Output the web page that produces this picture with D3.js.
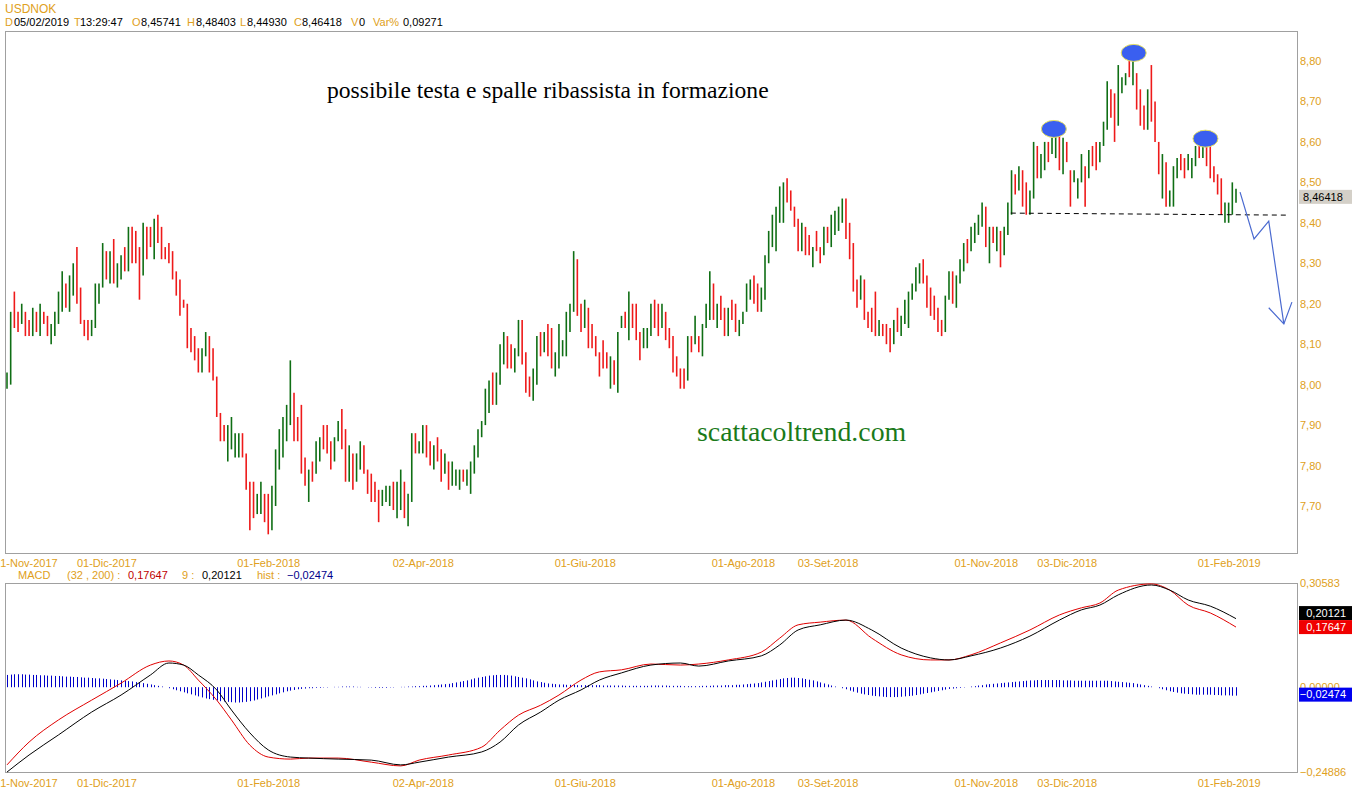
<!DOCTYPE html>
<html><head><meta charset="utf-8">
<script src="https://cdn.jsdelivr.net/npm/d3@7"></script>
<style>body{margin:0;background:#fff;} svg{display:block;font-family:"Liberation Sans",Arial,sans-serif;}</style>
</head><body><svg id="c" width="1352" height="800"></svg>
<script>
// ---------------- DATA ----------------
const symbol = "USDNOK";
const firstDay = "2017-10-25", lastDay = "2019-02-05";
const highs = [8.03,8.18,8.23,8.18,8.20,8.18,8.16,8.19,8.18,8.20,8.18,8.17,8.15,8.18,8.23,8.28,8.25,8.27,8.30,8.34,
8.24,8.16,8.16,8.16,8.25,8.25,8.35,8.33,8.33,8.36,8.30,8.32,8.34,8.39,8.39,8.38,8.34,8.40,8.39,8.39,
8.41,8.42,8.39,8.34,8.35,8.33,8.28,8.26,8.21,8.20,8.14,8.12,8.09,8.09,8.13,8.12,8.09,8.02,7.93,7.90,
7.90,7.92,7.88,7.88,7.88,7.83,7.76,7.76,7.73,7.76,7.73,7.73,7.75,7.84,7.89,7.92,7.95,8.06,7.98,7.92,
7.95,7.82,7.79,7.81,7.86,7.87,7.90,7.90,7.86,7.87,7.91,7.94,7.89,7.85,7.83,7.83,7.86,7.85,7.79,7.78,
7.76,7.74,7.74,7.75,7.75,7.76,7.76,7.79,7.76,7.73,7.88,7.88,7.86,7.90,7.90,7.86,7.85,7.87,7.84,7.83,
7.81,7.81,7.79,7.79,7.79,7.79,7.81,7.85,7.89,7.91,7.99,8.01,8.03,8.03,8.10,8.13,8.12,8.10,8.09,8.16,
8.16,8.08,8.02,8.04,8.12,8.13,8.13,8.15,8.14,8.08,8.15,8.11,8.18,8.20,8.33,8.31,8.20,8.21,8.19,8.15,
8.12,8.08,8.11,8.08,8.07,8.06,8.13,8.17,8.18,8.23,8.20,8.20,8.13,8.14,8.14,8.20,8.21,8.20,8.20,8.18,
8.14,8.12,8.07,8.04,8.04,8.12,8.12,8.17,8.12,8.15,8.20,8.28,8.25,8.20,8.22,8.19,8.19,8.21,8.20,8.16,
8.18,8.25,8.26,8.27,8.25,8.24,8.32,8.38,8.42,8.44,8.49,8.50,8.51,8.48,8.44,8.41,8.40,8.39,8.37,8.34,
8.38,8.34,8.39,8.39,8.42,8.43,8.44,8.46,8.46,8.40,8.35,8.26,8.27,8.26,8.18,8.19,8.23,8.16,8.15,8.15,
8.14,8.16,8.19,8.17,8.21,8.23,8.25,8.29,8.30,8.31,8.27,8.24,8.22,8.19,8.16,8.22,8.28,8.28,8.27,8.31,
8.35,8.36,8.39,8.40,8.42,8.45,8.44,8.39,8.39,8.39,8.38,8.39,8.45,8.53,8.52,8.54,8.53,8.50,8.48,8.60,
8.59,8.57,8.60,8.60,8.61,8.64,8.62,8.61,8.60,8.53,8.53,8.51,8.57,8.54,8.58,8.59,8.60,8.60,8.65,8.75,
8.73,8.72,8.79,8.76,8.77,8.81,8.82,8.77,8.73,8.69,8.73,8.79,8.70,8.60,8.57,8.55,8.48,8.54,8.56,8.57,
8.56,8.57,8.56,8.59,8.60,8.61,8.60,8.59,8.54,8.52,8.51,8.45,8.45,8.50,8.48403];
const lows = [7.99,8.00,8.14,8.13,8.15,8.12,8.12,8.12,8.13,8.12,8.15,8.12,8.10,8.12,8.15,8.18,8.19,8.18,8.22,8.20,
8.15,8.12,8.11,8.12,8.14,8.20,8.24,8.26,8.25,8.25,8.24,8.26,8.28,8.28,8.30,8.30,8.21,8.27,8.31,8.34,
8.31,8.35,8.31,8.31,8.30,8.26,8.22,8.17,8.19,8.09,8.08,8.06,8.03,8.03,8.07,8.03,8.01,7.92,7.86,7.86,
7.81,7.84,7.82,7.82,7.82,7.74,7.64,7.67,7.68,7.68,7.66,7.63,7.64,7.70,7.79,7.82,7.86,7.90,7.86,7.86,
7.78,7.75,7.71,7.76,7.78,7.81,7.84,7.83,7.79,7.81,7.86,7.84,7.76,7.76,7.74,7.76,7.79,7.78,7.73,7.71,
7.71,7.66,7.70,7.71,7.70,7.69,7.67,7.69,7.67,7.65,7.71,7.83,7.83,7.83,7.82,7.80,7.79,7.81,7.76,7.78,
7.74,7.75,7.75,7.74,7.76,7.75,7.73,7.78,7.82,7.87,7.90,7.93,7.95,7.95,8.00,8.05,8.04,8.04,8.03,8.07,
8.05,7.98,7.97,7.96,8.00,8.07,8.08,8.07,8.04,8.02,8.04,8.07,8.07,8.13,8.18,8.17,8.13,8.14,8.09,8.09,
8.07,8.02,8.04,8.04,7.99,8.00,7.98,8.14,8.14,8.11,8.14,8.11,8.06,8.09,8.09,8.12,8.14,8.12,8.14,8.11,
8.09,8.03,8.02,7.99,7.99,8.01,8.08,8.10,8.08,8.07,8.14,8.16,8.16,8.14,8.16,8.12,8.12,8.16,8.13,8.12,
8.15,8.18,8.21,8.20,8.18,8.18,8.21,8.30,8.34,8.33,8.40,8.40,8.45,8.43,8.39,8.33,8.33,8.32,8.32,8.29,
8.33,8.30,8.32,8.35,8.34,8.37,8.38,8.40,8.36,8.31,8.23,8.19,8.21,8.16,8.14,8.13,8.12,8.12,8.12,8.10,
8.08,8.10,8.13,8.12,8.15,8.14,8.21,8.23,8.25,8.25,8.19,8.17,8.16,8.13,8.12,8.13,8.21,8.20,8.19,8.25,
8.28,8.30,8.33,8.35,8.37,8.39,8.34,8.30,8.35,8.33,8.29,8.32,8.37,8.42,8.47,8.48,8.44,8.42,8.42,8.46,
8.51,8.51,8.53,8.55,8.57,8.56,8.53,8.52,8.55,8.44,8.50,8.46,8.50,8.44,8.51,8.54,8.53,8.55,8.59,8.63,
8.66,8.60,8.64,8.72,8.74,8.76,8.74,8.68,8.64,8.63,8.63,8.65,8.60,8.52,8.46,8.44,8.44,8.44,8.51,8.53,
8.51,8.53,8.51,8.54,8.56,8.56,8.54,8.51,8.50,8.47,8.42,8.40,8.40,8.42,8.44930];
const up = [1,1,0,0,1,0,0,1,0,1,0,0,1,1,1,1,0,1,1,0,
0,0,0,1,1,1,1,0,1,0,1,1,0,1,0,0,0,1,0,0,
1,0,0,0,0,0,0,0,0,0,0,0,0,1,1,0,0,0,0,0,
1,1,1,1,0,0,0,0,1,1,0,0,1,1,1,1,1,1,0,0,
0,0,1,0,1,1,0,0,0,1,1,0,0,1,0,1,1,0,0,0,
0,0,1,1,1,0,1,1,0,1,1,0,1,1,0,0,1,0,0,1,
0,1,1,1,0,1,1,1,1,1,1,1,0,1,1,1,0,0,1,1,
0,0,0,1,1,0,1,0,0,1,1,1,1,1,1,0,0,1,0,0,
0,0,0,0,1,0,1,1,0,1,0,0,0,1,1,1,0,0,1,0,
0,0,0,0,0,1,0,1,0,1,1,1,0,1,0,0,1,0,0,1,
1,1,1,0,0,1,1,1,1,1,1,1,0,0,0,0,1,0,0,1,
0,0,1,0,1,1,1,1,0,0,0,0,1,0,0,0,0,1,0,0,
0,1,0,1,1,1,1,1,1,0,0,0,0,0,0,1,1,0,1,1,
1,0,1,1,1,1,0,1,0,1,0,1,1,1,0,1,0,0,1,1,
0,1,1,0,1,1,0,1,0,0,1,1,1,0,1,0,0,1,1,1,
0,0,1,1,1,0,1,0,0,0,1,0,0,0,1,0,1,1,1,0,
0,1,1,1,0,1,0,0,0,0,0,1,1,1,1];
const priceTicks = [7.70,7.80,7.90,8.00,8.10,8.20,8.30,8.40,8.50,8.60,8.70,8.80];
const lastPrice = 8.46418;
const xTickDates = ["2017-11-01","2017-12-01","2018-02-01","2018-04-02","2018-06-01","2018-08-01","2018-09-03","2018-11-01","2018-12-03","2019-02-01"];
const xTickLabels = ["01-Nov-2017","01-Dic-2017","01-Feb-2018","02-Apr-2018","01-Giu-2018","01-Ago-2018","03-Set-2018","01-Nov-2018","03-Dic-2018","01-Feb-2019"];

// MACD(32,200) lines read at these bar indices
const macdAnchor = [0,6,14,23,31,39,44,48,52,57,61,66,71,77,82,90,99,107,112,120,129,134,139,145,150,156,161,167,175,183,188,196,205,210,215,221,228,235,243,251,256,262,270,278,286,292,297,302,311,316,321,327,334];
const macdLine = [-0.228,-0.161,-0.096,-0.038,0.012,0.065,0.077,0.065,0.021,-0.038,-0.096,-0.170,-0.205,-0.211,-0.208,-0.208,-0.220,-0.231,-0.214,-0.199,-0.176,-0.126,-0.082,-0.053,-0.023,0.021,0.045,0.051,0.068,0.065,0.068,0.080,0.103,0.144,0.183,0.191,0.197,0.144,0.095,0.080,0.080,0.095,0.130,0.168,0.212,0.233,0.247,0.285,0.303,0.285,0.241,0.218,0.17647];
const signalLine = [-0.249,-0.199,-0.140,-0.073,-0.023,0.036,0.071,0.065,0.036,-0.008,-0.067,-0.134,-0.184,-0.205,-0.208,-0.211,-0.214,-0.228,-0.220,-0.205,-0.190,-0.161,-0.111,-0.073,-0.038,-0.008,0.021,0.042,0.065,0.071,0.062,0.077,0.092,0.124,0.168,0.183,0.197,0.168,0.115,0.086,0.080,0.092,0.115,0.150,0.197,0.227,0.241,0.271,0.300,0.285,0.256,0.238,0.20121];
const histogram = [
.036,.037,.038,.038,.038,.037,.037,.036,.036,.035, .035,.034,.034,.033,.033,.032,.031,.031,.030,.030,
.029,.028,.028,.027,.026,.026,.025,.024,.023,.022, .021,.020,.019,.018,.017,.015,.014,.012,.010,.008,
.006,.004,.002,.000,-.003,-.006,-.009,-.012,-.015,-.018, -.021,-.024,-.027,-.030,-.033,-.035,-.037,-.039,-.041,-.042,
-.043,-.044,-.045,-.045,-.044,-.043,-.041,-.039,-.036,-.033, -.030,-.027,-.024,-.021,-.018,-.015,-.012,-.010,-.008,-.006,
-.005,-.004,-.003,-.003,-.002,-.002,-.001,-.001,.000,.001, .001,.002,.002,.002,.002,.001,.001,.000,-.001,-.001,
-.002,-.002,-.002,-.002,-.001,-.001,.000,.001,.001,.002, .002,.003,.003,.004,.004,.005,.006,.007,.008,.009,
.010,.012,.014,.016,.018,.020,.023,.026,.028,.030, .032,.034,.035,.036,.036,.036,.035,.034,.032,.030,
.028,.026,.023,.020,.017,.015,.013,.011,.010,.009, .008,.008,.007,.007,.007,.006,.006,.006,.006,.006,
.006,.006,.005,.005,.005,.005,.005,.005,.004,.004, .004,.004,.004,.004,.004,.005,.005,.005,.005,.005,
.004,.004,.004,.004,.003,.003,.003,.003,.003,.004, .004,.004,.005,.005,.005,.006,.006,.006,.007,.007,
.008,.009,.010,.011,.012,.014,.016,.018,.020,.022, .024,.026,.027,.028,.028,.027,.026,.024,.022,.020,
.017,.014,.011,.008,.005,.002,.000,-.003,-.006,-.010, -.013,-.016,-.019,-.021,-.023,-.025,-.026,-.027,-.028,-.029,
-.029,-.029,-.029,-.028,-.027,-.026,-.025,-.023,-.021,-.019, -.017,-.015,-.013,-.011,-.009,-.007,-.005,-.004,-.003,-.002,
-.001,.000,.002,.003,.005,.006,.008,.009,.010,.011, .012,.013,.014,.015,.016,.017,.018,.019,.020,.020,
.021,.021,.021,.021,.021,.021,.021,.020,.020,.020, .019,.019,.019,.019,.019,.019,.019,.019,.019,.019,
.018,.017,.016,.015,.014,.013,.012,.010,.008,.006, .004,.002,.000,-.003,-.006,-.009,-.012,-.014,-.016,-.018,
-.019,-.020,-.021,-.022,-.022,-.022,-.022,-.022,-.023,-.023, -.024,-.024,-.024,-.025,-.02474];
const macdRange = [-0.24886, 0.30583];

// pattern annotations (bar index, price)
const shoulders = [{i:284.5,p:8.632,name:"spalla sx"},{i:306.2,p:8.82,name:"testa"},{i:325.7,p:8.608,name:"spalla dx"}];
const neckline = [{i:272.8,p:8.424},{i:347.8,p:8.419}];
const forecastPath = [{i:335.1,p:8.476},{i:338.9,p:8.36},{i:342.9,p:8.404},{i:347.0,p:8.15}];
const arrowHead = [{i:342.9,p:8.19},{i:347.0,p:8.15},{i:349.2,p:8.204}];
const noteText = "possibile testa e spalle ribassista in formazione";
const siteText = "scattacoltrend.com";

// ---------------- DRAW ----------------
const svg = d3.select("#c");
const ORANGE = "#e0a020", GREEN = "#0f6e14", RED = "#ee1a1a";
const fmt = (v, d) => d3.format("." + d + "f")(v).replace(".", ",");

const parse = d3.timeParse("%Y-%m-%d");
const days = d3.timeDay.range(parse(firstDay), d3.timeDay.offset(parse(lastDay), 1))
  .filter(d => d.getDay() !== 0 && d.getDay() !== 6);
const dayIndex = new Map(days.map((d, i) => [+d, i]));
const n = highs.length;

const L = 5, R = 1297, P_TOP = 31, P_BOT = 553, M_TOP = 583, M_BOT = 772;
const x = d3.scaleLinear().domain([0, n - 1]).range([7, 1236]);
const y = d3.scaleLinear().domain([7.70, 8.80]).range([506, 61]);
const ym = d3.scaleLinear().domain(macdRange).range([M_BOT, M_TOP]);

// header
svg.append("text").attr("x", 5).attr("y", 13).attr("fill", ORANGE).attr("font-size", 12).text(symbol);
const hdr = [["D",5,ORANGE],["05/02/2019",14,"#000"],["T",74,ORANGE],["13:29:47",80,"#000"],["O",132,ORANGE],["8,45741",141,"#000"],
  ["H",187,ORANGE],["8,48403",196,"#000"],["L",240,ORANGE],["8,44930",247,"#000"],["C",294,ORANGE],["8,46418",302,"#000"],
  ["V",351,ORANGE],["0",359,"#000"],["Var%",373,ORANGE],["0,09271",403,"#000"]];
svg.selectAll("text.hdr").data(hdr).join("text").attr("class","hdr").attr("x", d => d[1]).attr("y", 26)
  .attr("font-size", 11).attr("fill", d => d[2]).text(d => d[0]);

// panels
svg.append("rect").attr("x", L + .5).attr("y", P_TOP + .5).attr("width", R - L).attr("height", P_BOT - P_TOP)
  .attr("fill", "none").attr("stroke", "#a0a0a0");
svg.append("rect").attr("x", L + .5).attr("y", M_TOP + .5).attr("width", R - L).attr("height", M_BOT - M_TOP)
  .attr("fill", "none").attr("stroke", "#a0a0a0");

// price axis
const yAxis = d3.axisRight(y).tickValues(priceTicks).tickSize(0).tickPadding(3).tickFormat(v => fmt(v, 2));
const gy = svg.append("g").attr("transform", `translate(${R},0)`).call(yAxis);
gy.select(".domain").remove();
gy.selectAll("text").attr("fill", ORANGE).attr("font-size", 11).attr("font-family", "Liberation Sans, Arial, sans-serif");

// x axes
const tickIdx = xTickDates.map(s => dayIndex.get(+parse(s)));
function xAxisAt(yPos) {
  const ax = d3.axisBottom(x).tickValues(tickIdx).tickSize(0).tickPadding(0).tickFormat((d, i) => xTickLabels[i]);
  const g = svg.append("g").attr("transform", `translate(0,${yPos})`).call(ax);
  g.select(".domain").remove();
  g.selectAll("text").attr("fill", ORANGE).attr("font-size", 11).attr("font-family", "Liberation Sans, Arial, sans-serif")
    .attr("dy", "0.35em").attr("y", 0);
}
xAxisAt(563);
xAxisAt(783);

// price bars
const bars = svg.append("g");
bars.selectAll("line").data(highs).join("line")
  .attr("x1", (d, i) => x(i)).attr("x2", (d, i) => x(i))
  .attr("y1", d => y(d)).attr("y2", (d, i) => y(lows[i]))
  .attr("stroke", (d, i) => up[i] ? GREEN : RED).attr("stroke-width", 1.6);

// neckline
svg.append("line").attr("x1", x(neckline[0].i)).attr("y1", y(neckline[0].p))
  .attr("x2", x(neckline[1].i)).attr("y2", y(neckline[1].p))
  .attr("stroke", "#000").attr("stroke-dasharray", "5,4").attr("stroke-width", 1);

// shoulders & head markers
svg.selectAll("ellipse").data(shoulders).join("ellipse")
  .attr("cx", d => x(d.i)).attr("cy", d => y(d.p)).attr("rx", 12.5).attr("ry", 8.5)
  .attr("fill", "#3a5ff0").attr("stroke", "#e6e060").attr("stroke-width", 1);

// forecast arrow
const ln = d3.line().x(d => x(d.i)).y(d => y(d.p));
svg.append("path").attr("d", ln(forecastPath)).attr("fill", "none").attr("stroke", "#4a6ad0").attr("stroke-width", 1.2);
svg.append("path").attr("d", ln(arrowHead)).attr("fill", "none").attr("stroke", "#4a6ad0").attr("stroke-width", 1.2);

// last price box
const lpY = y(lastPrice);
svg.append("rect").attr("x", R + 2).attr("y", lpY - 7).attr("width", 53).attr("height", 14).attr("fill", "#d4d0c8");
svg.append("text").attr("x", R + 6).attr("y", lpY).attr("dy", "0.35em").attr("font-size", 11).attr("fill", "#000").text(fmt(lastPrice, 5));

// notes
svg.append("text").attr("x", 327).attr("y", 98).attr("font-family", "Liberation Serif, Times New Roman, serif")
  .attr("font-size", 23.6).attr("fill", "#000").text(noteText);
svg.append("text").attr("x", 697).attr("y", 441).attr("font-family", "Liberation Serif, Times New Roman, serif")
  .attr("font-size", 27.8).attr("fill", "#1a7a1a").text(siteText);

// MACD header
const last = n - 1;
const mh = [["MACD",18,ORANGE],["(32 , 200) :",67,ORANGE],[fmt(macdLine[macdLine.length-1],5),128,"#c00000"],["9 :",182,ORANGE],
  [fmt(signalLine[signalLine.length-1],5),202,"#000"],["hist :",257,ORANGE],[fmt(histogram[last],5),287,"#00008b"]];
svg.selectAll("text.mh").data(mh).join("text").attr("class","mh").attr("x", d => d[1]).attr("y", 579)
  .attr("font-size", 11).attr("fill", d => d[2]).text(d => d[0]);

// histogram
svg.append("g").selectAll("line").data(histogram).join("line")
  .attr("x1", (d, i) => Math.round(x(i)) + .5).attr("x2", (d, i) => Math.round(x(i)) + .5)
  .attr("y1", ym(0)).attr("y2", d => ym(d)).attr("stroke", "#0000c8").attr("stroke-width", 1);

// MACD & signal
const ml = d3.line().x((d, k) => x(macdAnchor[k])).y(d => ym(d)).curve(d3.curveMonotoneX);
svg.append("path").attr("d", ml(macdLine)).attr("fill", "none").attr("stroke", "#e00000").attr("stroke-width", 1);
svg.append("path").attr("d", ml(signalLine)).attr("fill", "none").attr("stroke", "#000").attr("stroke-width", 1);

// MACD axis labels
const mAx = d3.axisRight(ym).tickValues([macdRange[1], 0, macdRange[0]]).tickSize(0).tickPadding(3).tickFormat(v => fmt(v, 5));
const gm = svg.append("g").attr("transform", `translate(${R},0)`).call(mAx);
gm.select(".domain").remove();
gm.selectAll("text").attr("fill", ORANGE).attr("font-size", 11).attr("font-family", "Liberation Sans, Arial, sans-serif");

// value boxes
const redV = macdLine[macdLine.length-1], blkV = signalLine[signalLine.length-1], histV = histogram[last];
let redTop = ym(redV) - 7, blkTop = ym(blkV) - 7;
if (blkTop + 14 > redTop) blkTop = redTop - 14;
const boxes = [[blkTop, "#000", blkV], [redTop, "#f00000", redV], [ym(histV) - 8, "#0000f0", histV]];
boxes.forEach(b => {
  svg.append("rect").attr("x", R + 2).attr("y", b[0]).attr("width", 55).attr("height", 14).attr("fill", b[1]);
  svg.append("text").attr("x", R + 49).attr("y", b[0] + 7).attr("dy", "0.35em").attr("text-anchor", "end")
    .attr("font-size", 11).attr("fill", "#fff").text(fmt(b[2], 5));
});
</script></body></html>
